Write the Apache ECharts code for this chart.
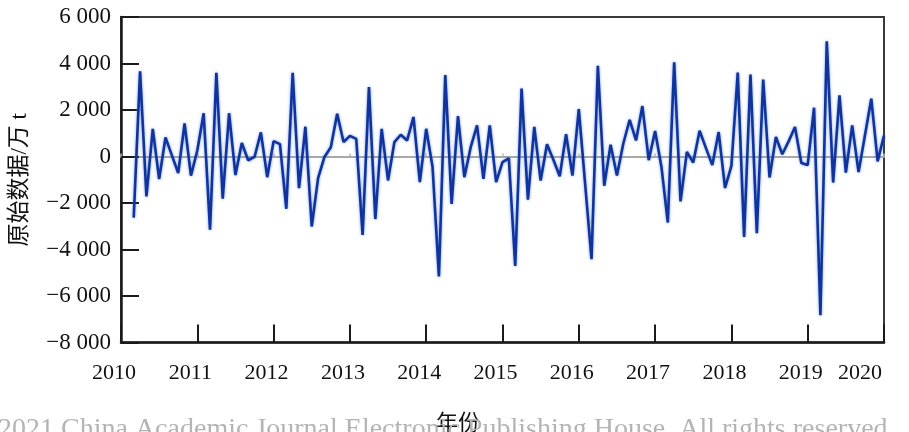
<!DOCTYPE html>
<html>
<head>
<meta charset="utf-8">
<script src="https://cdn.jsdelivr.net/npm/echarts@6/dist/echarts.min.js"></script>
<style>
  html, body { margin: 0; padding: 0; background: #ffffff; }
  #chart { width: 909px; height: 432px; }
</style>
</head>
<body>
<div id="chart"></div>
<script>
// Monthly series, February 2010 – December 2019 (万 t)
const startYear = 2010;
const startMonth = 2;
const v2010 = [-2630, 3660, -1720, 1190, -970, 820, 50, -710, 1420, -820, 260];
const v2011 = [1860, -3150, 3600, -1810, 1860, -800, 580, -160, -20, 1040, -890, 660];
const v2012 = [530, -2250, 3600, -1360, 1280, -3010, -930, -20, 400, 1840, 620, 890];
const v2013 = [760, -3370, 2990, -2690, 1190, -1030, 620, 935, 690, 1700, -1100, 1190];
const v2014 = [-450, -5155, 3500, -2040, 1740, -890, 400, 1340, -960, 1340, -1100, -243];
const v2015 = [-80, -4710, 2920, -1860, 1270, -1034, 530, -140, -850, 960, -818, 2040];
const v2016 = [-1190, -4420, 3900, -1260, 510, -818, 560, 1580, 690, 2170, -160, 1100];
const v2017 = [-450, -2840, 4050, -1930, 200, -260, 1110, 360, -370, 1050, -1355, -400];
const v2018 = [3607, -3460, 3530, -3295, 3306, -900, 836, 95, 650, 1267, -280, -370];
const v2019 = [2099, -6823, 4957, -1120, 2629, -690, 1337, -673, 900, 2487, -210, 905];

const xTicks = [2010, 2011, 2012, 2013, 2014, 2015, 2016, 2017, 2018, 2019, 2020];
const yTicks = [-8000, -6000, -4000, -2000, 0, 2000, 4000, 6000];

const values = [].concat(v2010, v2011, v2012, v2013, v2014, v2015, v2016, v2017, v2018, v2019);
// month m of year Y sits at Y + m/12
const points = values.map((v, i) => [startYear + (startMonth + i) / 12, v]);

const serif = '"Liberation Serif", "Times New Roman", "Noto Sans CJK SC", serif';
const xMax = xTicks[xTicks.length - 1];

// thousands grouped with a space, true minus sign
function fmtY(n) {
  const a = Math.abs(n);
  const s = a >= 1000 ? Math.floor(a / 1000) + ' ' + String(a % 1000).padStart(3, '0') : String(a);
  return (n < 0 ? '\u2212' : '') + s;
}

const labelFont = { fontFamily: serif, fontSize: 22, color: '#111' };

const chart = echarts.init(document.getElementById('chart'), null, { renderer: 'canvas' });
chart.setOption({
  animation: false,
  backgroundColor: '#ffffff',
  grid: {
    left: 121, right: 25, top: 17, bottom: 89.5,
    outerBoundsMode: 'none',
    containLabel: false,
    show: true, borderColor: '#3a3a3a', borderWidth: 2, backgroundColor: 'transparent'
  },
  xAxis: [
    {
      type: 'value',
      min: xTicks[0], max: xMax, interval: 1,
      position: 'bottom',
      axisLine: { onZero: false, lineStyle: { color: '#1a1a1a', width: 2.5 } },
      axisTick: { inside: true, length: 18, lineStyle: { color: '#1a1a1a', width: 2 } },
      axisLabel: Object.assign({
        margin: 20,
        alignMaxLabel: 'right',
        formatter: v => {
          const y = Math.round(v);
          return y === xMax ? '{r|' + y + '}' : '{n|' + y + '}';
        },
        rich: {
          n: Object.assign({ padding: [0, 14, 0, 0] }, labelFont),
          r: Object.assign({ padding: [0, 2, 0, 0] }, labelFont)
        }
      }, labelFont),
      splitLine: { show: false }
    },
    {
      // zero reference line with faint year ticks
      type: 'value',
      min: xTicks[0], max: xMax, interval: 1,
      position: 'top',
      axisLine: { onZero: true, lineStyle: { color: '#a8a8a8', width: 2 } },
      axisTick: { show: true, inside: false, length: 3, lineStyle: { color: '#b8b8b8', width: 1.5 } },
      axisLabel: { show: false },
      splitLine: { show: false }
    }
  ],
  yAxis: {
    type: 'value',
    min: yTicks[0], max: yTicks[yTicks.length - 1], interval: 2000,
    name: '原始数据/万 t', nameLocation: 'middle', nameGap: 90, nameRotate: 90,
    nameTextStyle: { fontFamily: serif, fontSize: 23, color: '#111' },
    axisLine: { lineStyle: { color: '#1a1a1a', width: 2.5 } },
    axisTick: { inside: true, length: 18, lineStyle: { color: '#1a1a1a', width: 2 } },
    axisLabel: { margin: 10, fontFamily: serif, fontSize: 23, color: '#111', formatter: fmtY },
    splitLine: { show: false }
  },
  series: [{
    type: 'line',
    xAxisIndex: 0,
    data: points,
    showSymbol: false,
    symbol: 'none',
    lineStyle: {
      color: '#10339d', width: 2.6,
      shadowColor: 'rgba(70,120,215,0.7)', shadowBlur: 3
    },
    z: 3
  }],
  graphic: [
    {
      type: 'text',
      left: 436, top: 411,
      silent: true,
      style: { text: '年份', font: '22px "Noto Sans CJK SC", sans-serif', fill: '#111' },
      z: 9
    },
    {
      type: 'text',
      left: -2, top: 416,
      silent: true,
      style: {
        text: '2021 China Academic Journal Electronic Publishing House. All rights reserved.',
        font: '28px "Liberation Serif", serif',
        fill: '#b4b4b4'
      },
      z: 10
    }
  ]
});
</script>
</body>
</html>
